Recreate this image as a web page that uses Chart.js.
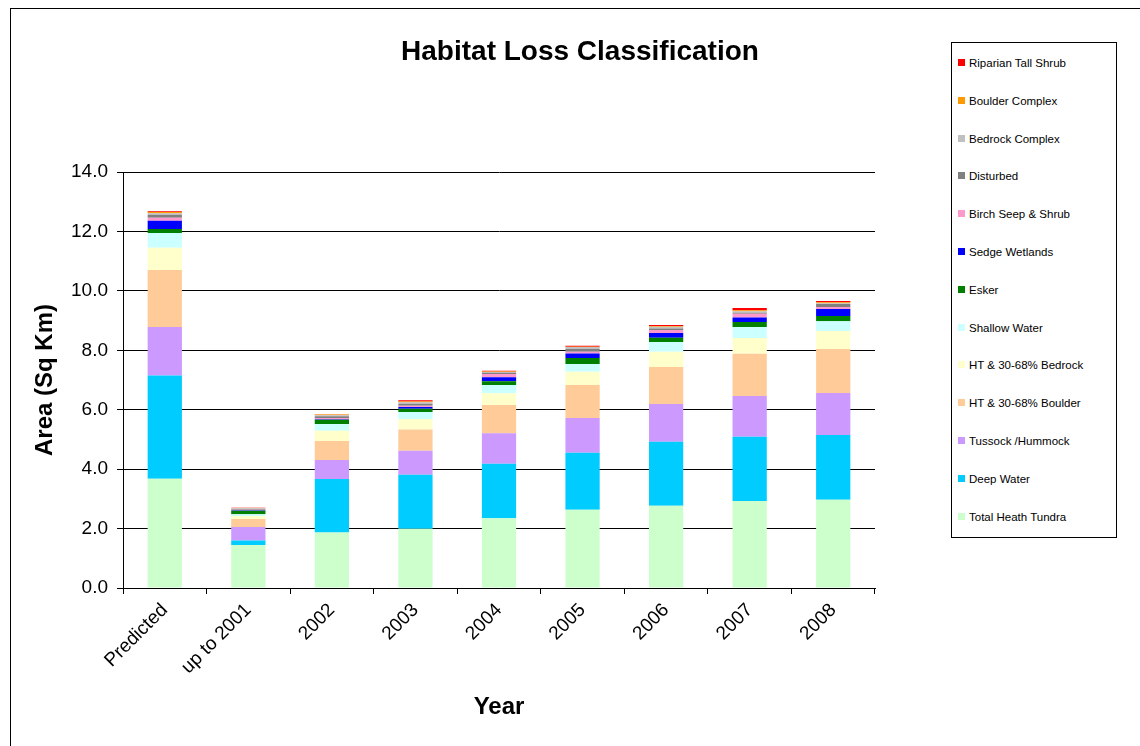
<!DOCTYPE html>
<html>
<head>
<meta charset="utf-8">
<script src="https://cdn.jsdelivr.net/npm/chart.js@4"></script>
<style>
  html, body { margin: 0; padding: 0; background: #fff; }
  body { width: 1140px; height: 746px; overflow: hidden; position: relative; font-family: Arial, "Liberation Sans", sans-serif; }
  #frame { position: absolute; left: 10px; top: 8px; width: 1200px; height: 800px; border: 1px solid #000; }
  #wrap { position: absolute; left: 0; top: 0; width: 1140px; height: 746px; }
  #title { position: absolute; left: 380px; width: 400px; top: 35px; text-align: center; font-weight: bold; font-size: 28px; color: #000; }
  #legend { position: absolute; left: 951px; top: 42px; width: 164px; height: 494px; border: 1px solid #000; background: #fff; }
  .item { position: absolute; left: 6px; font-size: 11.5px; color: #000; line-height: 14px; white-space: nowrap; }
  .item span { display: inline-block; width: 7px; height: 7px; margin-right: 4px; vertical-align: 1px; }
</style>
</head>
<body>
<div id="frame"></div>
<div id="wrap"><canvas id="chart" width="1140" height="746"></canvas></div>
<div id="title">Habitat Loss Classification</div>
<div id="legend"></div>
<script>
const years = ["Predicted", "up to 2001", "2002", "2003", "2004", "2005", "2006", "2007", "2008"];

// bottom of the stack first
const totalHeathTundra = [3.68, 1.45, 1.87, 1.99, 2.35, 2.63, 2.77, 2.93, 2.97];
const deepWater        = [3.47, 0.15, 1.80, 1.82, 1.83, 1.92, 2.15, 2.16, 2.18];
const tussockHummock   = [1.63, 0.45, 0.64, 0.81, 1.03, 1.17, 1.27, 1.37, 1.41];
const htBoulder        = [1.92, 0.27, 0.64, 0.71, 0.95, 1.11, 1.25, 1.42, 1.48];
const htBedrock        = [0.75, 0.10, 0.34, 0.36, 0.39, 0.45, 0.51, 0.53, 0.61];
const shallowWater     = [0.50, 0.06, 0.23, 0.23, 0.28, 0.26, 0.33, 0.37, 0.33];
const esker            = [0.13, 0.12, 0.14, 0.11, 0.13, 0.20, 0.14, 0.17, 0.17];
const sedgeWetlands    = [0.28, 0.02, 0.02, 0.06, 0.13, 0.15, 0.16, 0.15, 0.24];
const birchSeepShrub   = [0.10, 0.01, 0.04, 0.04, 0.11, 0.06, 0.10, 0.13, 0.07];
const disturbed        = [0.10, 0.03, 0.06, 0.07, 0.04, 0.09, 0.05, 0.03, 0.10];
const bedrockComplex   = [0.05, 0.02, 0.03, 0.05, 0.03, 0.07, 0.06, 0.05, 0.02];
const boulderComplex   = [0.04, 0.01, 0.03, 0.03, 0.02, 0.01, 0.03, 0.04, 0.04];
const riparianShrub    = [0.03, 0.01, 0.01, 0.04, 0.02, 0.03, 0.03, 0.07, 0.04];

const series = [
  { label: "Total Heath Tundra", data: totalHeathTundra, color: "#CCFFCC" },
  { label: "Deep Water", data: deepWater, color: "#00CCFF" },
  { label: "Tussock /Hummock", data: tussockHummock, color: "#CC99FF" },
  { label: "HT & 30-68% Boulder", data: htBoulder, color: "#FFCC99" },
  { label: "HT & 30-68% Bedrock", data: htBedrock, color: "#FFFFCC" },
  { label: "Shallow Water", data: shallowWater, color: "#CCFFFF" },
  { label: "Esker", data: esker, color: "#008000" },
  { label: "Sedge Wetlands", data: sedgeWetlands, color: "#0000FF" },
  { label: "Birch Seep & Shrub", data: birchSeepShrub, color: "#FF99CC" },
  { label: "Disturbed", data: disturbed, color: "#808080" },
  { label: "Bedrock Complex", data: bedrockComplex, color: "#C0C0C0" },
  { label: "Boulder Complex", data: boulderComplex, color: "#FF9900" },
  { label: "Riparian Tall Shrub", data: riparianShrub, color: "#FF0000" },
];

const FONT = "Arial, 'Liberation Sans', sans-serif";

// legend box, top item is the top of the stack
document.getElementById("legend").innerHTML = series.slice().reverse().map((s, i) =>
  `<div class="item" style="top:${13 + i * 37.8}px"><span style="background:${s.color}"></span>${s.label}</div>`
).join("");

new Chart(document.getElementById("chart").getContext("2d"), {
  type: "bar",
  data: {
    labels: years,
    datasets: series.map(s => ({
      label: s.label, data: s.data, backgroundColor: s.color, borderWidth: 0,
      categoryPercentage: 1, barPercentage: 0.41,
    })),
  },
  options: {
    responsive: false, animation: false,
    layout: { padding: { left: 0, right: 265, top: 172, bottom: 0 } },
    plugins: { legend: { display: false }, tooltip: { enabled: false } },
    scales: {
      x: {
        stacked: true,
        afterFit: s => { s.height = 158; },
        grid: { display: true, drawOnChartArea: false, drawTicks: true, tickLength: 6, color: "#000", offset: true },
        border: { display: true, color: "#000", width: 1 },
        ticks: { color: "#000", font: { family: FONT, size: 19 }, minRotation: 45, maxRotation: 45, autoSkip: false, padding: 5 },
        title: { display: true, text: "Year", color: "#000", font: { family: FONT, size: 24, weight: "bold" }, padding: { top: 0, bottom: 24 } },
      },
      y: {
        stacked: true, min: 0, max: 14,
        afterFit: s => { s.width = 123; },
        grid: { color: "#000", lineWidth: 1, tickLength: 6 },
        border: { display: true, color: "#000", width: 1 },
        ticks: { stepSize: 2, color: "#000", font: { family: FONT, size: 19 }, padding: 9, callback: v => v.toFixed(1) },
        title: { display: true, text: "Area (Sq Km)", color: "#000", font: { family: FONT, size: 24, weight: "bold" }, padding: { top: 31, bottom: 0 } },
      },
    },
  },
});
</script>
</body>
</html>
